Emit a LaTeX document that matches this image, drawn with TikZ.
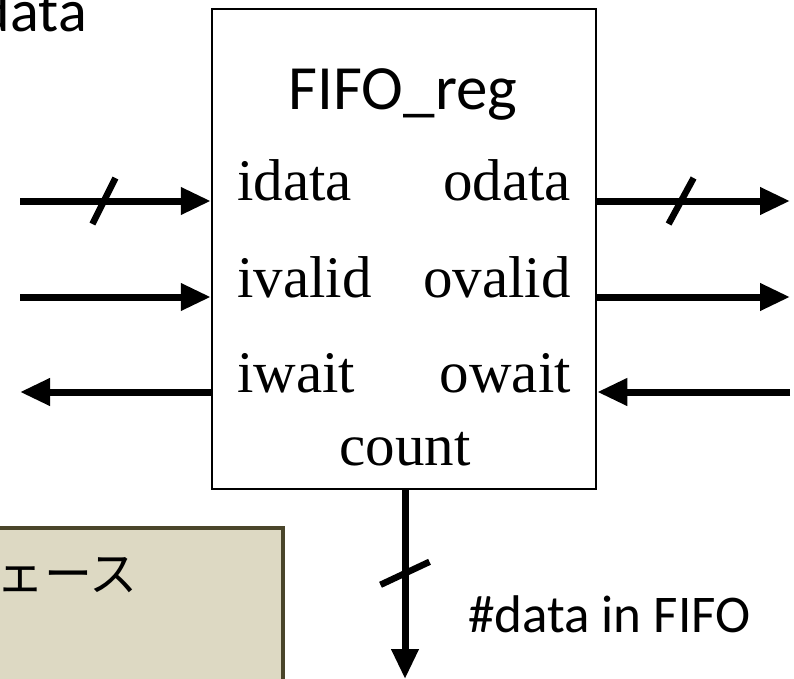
\documentclass[tikz,border=0pt]{standalone}
\usepackage{fontspec}
\setmainfont{Liberation Serif}
\newfontfamily\calibri{Carlito}
\newfontfamily\jpfont{Noto Sans CJK JP}
\usepackage{xcolor}
\usetikzlibrary{arrows.meta,calc}

\definecolor{tanfill}{HTML}{DDD9C3}
\definecolor{tanline}{HTML}{4A452A}

\begin{document}
\begin{tikzpicture}
		[x=1pt,y=-1pt,
		block/.style={rectangle,draw=black,line width=2.5pt,minimum width=384pt,minimum height=480pt,inner sep=0pt},
		title/.style={inner sep=0pt,font=\calibri\fontsize{63}{75}\selectfont},
		port/.style={inner sep=0pt,font=\fontsize{59}{70}\selectfont},
		note/.style={inner sep=0pt,font=\calibri\fontsize{53}{64}\selectfont},
		sig/.style={line width=7pt,-{Triangle[length=30pt,width=26pt]}},
		bus/.style={line width=6.5pt}]
		\useasboundingbox (0,0) rectangle (794,679);

		% text box in the corner
		\filldraw [fill=tanfill,draw=tanline,line width=4.5pt] (-20,528) rectangle (283,720);
		\node [inner sep=0pt,anchor=base west,font=\jpfont\fontsize{48}{58}\selectfont] (ifname) at (-4,591) {ェース};
		\node [inner sep=0pt,anchor=base east,font=\calibri\fontsize{60}{72}\selectfont] (topname) at (87,32) {data};

		% the register block and its ports
		\node [block] (fifo) at (404,249) {};
		\node [title,anchor=base] (name) at (403,110) {FIFO\_reg};
		\node [port,anchor=base west] (idata) at (237,200) {idata};
		\node [port,anchor=base west] (ivalid) at (237,297) {ivalid};
		\node [port,anchor=base west] (iwait) at (237,392) {iwait};
		\node [port,anchor=base east] (odata) at (571,200) {odata};
		\node [port,anchor=base east] (ovalid) at (571,297) {ovalid};
		\node [port,anchor=base east] (owait) at (571,392) {owait};
		\node [port,anchor=base] (count) at (405,465) {count};

		% free ends of the wires
		\coordinate (din) at (20,201);
		\coordinate (vin) at (20,297);
		\coordinate (win) at (20,392);
		\coordinate (dout) at (790,201);
		\coordinate (vout) at (790,297);
		\coordinate (wout) at (790,392);
		\coordinate (cnt) at (405,679);

		\draw [sig] (din) -- (din -| fifo.west);
		\draw [sig] (vin) -- (vin -| fifo.west);
		\draw [sig] (win -| fifo.west) -- (win);
		\draw [sig] (dout -| fifo.east) -- (dout);
		\draw [sig] (vout -| fifo.east) -- (vout);
		\draw [sig] (wout) -- (wout -| fifo.east);
		\draw [sig] (fifo.south -| cnt) -- (cnt);

		% bus marks
		\draw [bus] ($(din)!.44!(din -| fifo.west)$) +(-11.5,23) -- +(11.5,-23);
		\draw [bus] ($(dout -| fifo.east)!.435!(dout)$) +(-12.5,23) -- +(12.5,-23);
		\draw [bus] ($(fifo.south -| cnt)!.44!(cnt)$) +(-24.5,11.5) -- +(24.5,-11.5);

		\node [note,anchor=base west] (cntlabel) at (468,632) {\#data in FIFO};

	\end{tikzpicture}
\end{document}
